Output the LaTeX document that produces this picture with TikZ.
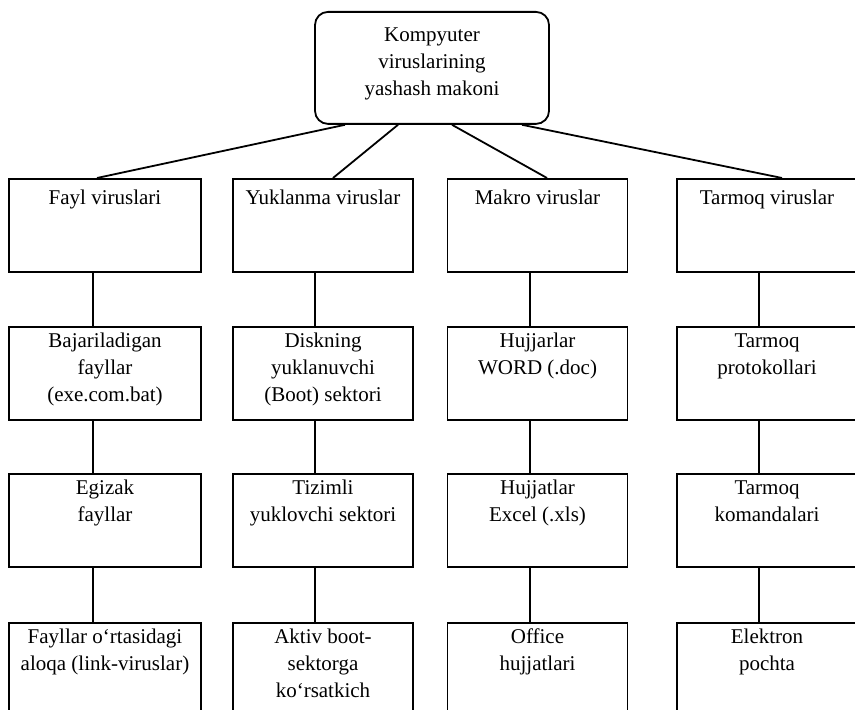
\documentclass[tikz,border=0pt]{standalone}
\usepackage{fontspec}
\setmainfont{Liberation Serif}
\newcommand{\toplines}[1]{\begin{tabular}[t]{@{}c@{}}#1\end{tabular}}

\begin{document}
\begin{tikzpicture}[
  x=0.5pt, y=-0.5pt,
  font=\fontsize{10.5}{13.5}\selectfont,
  box/.style={draw, rectangle, anchor=north, inner sep=0pt,
              line width=0.9pt, minimum width=90pt,
              text height=10.5pt, text depth=36pt},
  wide/.style={minimum width=96pt},
  head/.style={text height=13pt, text depth=33.5pt},
  root/.style={box, rounded corners=6.5pt, minimum width=117pt,
               text height=15pt, text depth=41pt},
  link/.style={line width=0.9pt},
]
\path[use as bounding box] (0,0) rectangle (855,710);
\clip (0,0) rectangle (855,710);

\node[root] (top) at (432,11) {\toplines{Kompyuter\\viruslarining\\yashash makoni}};

\node[box, wide, head] (A1) at (105,178)   {Fayl viruslari};
\node[box, head]       (B1) at (323,178)   {Yuklanma viruslar};
\node[box, head]       (C1) at (537.5,178) {Makro viruslar};
\node[box, head]       (D1) at (767,178)   {Tarmoq viruslar};

\node[box, wide] (A2) at (105,326)   {\toplines{Bajariladigan\\fayllar\\(exe.com.bat)}};
\node[box]       (B2) at (323,326)   {\toplines{Diskning\\yuklanuvchi\\(Boot) sektori}};
\node[box]       (C2) at (537.5,326) {\toplines{Hujjarlar\\WORD (.doc)}};
\node[box]       (D2) at (767,326)   {\toplines{Tarmoq\\protokollari}};

\node[box, wide] (A3) at (105,473)   {\toplines{Egizak\\fayllar}};
\node[box]       (B3) at (323,473)   {\toplines{Tizimli\\yuklovchi sektori}};
\node[box]       (C3) at (537.5,473) {\toplines{Hujjatlar\\Excel (.xls)}};
\node[box]       (D3) at (767,473)   {\toplines{Tarmoq\\komandalari}};

\node[box, wide] (A4) at (105,622)   {\toplines{Fayllar o‘rtasidagi\\aloqa (link-viruslar)}};
\node[box]       (B4) at (323,622)   {\toplines{Aktiv boot-\\sektorga\\ko‘rsatkich}};
\node[box]       (C4) at (537.5,622) {\toplines{Office\\hujjatlari}};
\node[box]       (D4) at (767,622)   {\toplines{Elektron\\pochta}};

% root to the four groups
\draw[link] ([xshift=-43.5pt]top.south) -- ([xshift=-4pt]A1.north);
\draw[link] ([xshift=-17pt]top.south)   -- ([xshift=5pt]B1.north);
\draw[link] ([xshift=10pt]top.south)    -- ([xshift=4.75pt]C1.north);
\draw[link] ([xshift=45pt]top.south)    -- ([xshift=7.5pt]D1.north);

% columns
\draw[link] ([xshift=-6pt]A1.south) -- ([xshift=-6pt]A2.north);
\draw[link] ([xshift=-6pt]A2.south) -- ([xshift=-6pt]A3.north);
\draw[link] ([xshift=-6pt]A3.south) -- ([xshift=-6pt]A4.north);
\draw[link] ([xshift=-4pt]B1.south) -- ([xshift=-4pt]B2.north);
\draw[link] ([xshift=-4pt]B2.south) -- ([xshift=-4pt]B3.north);
\draw[link] ([xshift=-4pt]B3.south) -- ([xshift=-4pt]B4.north);
\draw[link] ([xshift=-3.75pt]C1.south) -- ([xshift=-3.75pt]C2.north);
\draw[link] ([xshift=-3.75pt]C2.south) -- ([xshift=-3.75pt]C3.north);
\draw[link] ([xshift=-3.75pt]C3.south) -- ([xshift=-3.75pt]C4.north);
\draw[link] ([xshift=-4pt]D1.south) -- ([xshift=-4pt]D2.north);
\draw[link] ([xshift=-4pt]D2.south) -- ([xshift=-4pt]D3.north);
\draw[link] ([xshift=-4pt]D3.south) -- ([xshift=-4pt]D4.north);
\end{tikzpicture}
\end{document}
